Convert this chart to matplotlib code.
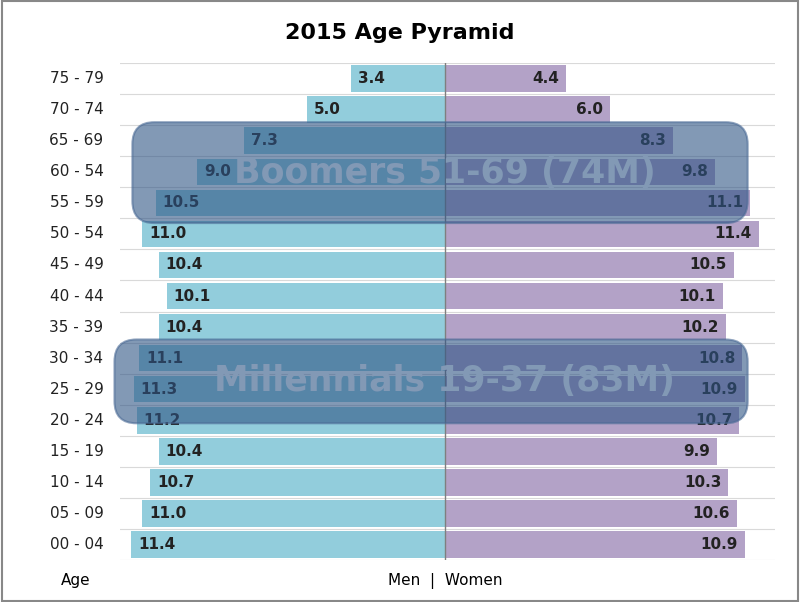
import matplotlib
matplotlib.use("Agg")
import matplotlib.pyplot as plt
from matplotlib.patches import FancyBboxPatch, Rectangle

ages = ["00 - 04","05 - 09","10 - 14","15 - 19","20 - 24","25 - 29","30 - 34","35 - 39",
        "40 - 44","45 - 49","50 - 54","55 - 59","60 - 54","65 - 69","70 - 74","75 - 79"]
men = [11.4,11.0,10.7,10.4,11.2,11.3,11.1,10.4,10.1,10.4,11.0,10.5,9.0,7.3,5.0,3.4]
women = [10.9,10.6,10.3,9.9,10.7,10.9,10.8,10.2,10.1,10.5,11.4,11.1,9.8,8.3,6.0,4.4]
groups = [("Boomers 51-69 (74M)", 11.35, 11.0, 13.6, 10.35), ("Millennials 19-37 (83M)", 12.0, 11.0, 6.6, 3.9)]

fig = plt.figure(figsize=(8, 6.02), dpi=100)
fig.patches.append(Rectangle((0.002,0.002),0.996,0.996,transform=fig.transFigure,fill=False,ec="#888888",lw=1.5))
ax = fig.add_axes([0.15, 0.07, 0.819, 0.825])
y = list(range(len(ages)))
ax.barh(y, [-m for m in men], height=0.86, color="#92CDDC")
ax.barh(y, women, height=0.86, color="#B3A2C7")
for yi in [i-0.5 for i in range(len(ages)+1)]:
    ax.axhline(yi, color="#d9d9d9", lw=0.8, zorder=0)
ax.axvline(0, color="#7f7f7f", lw=1)
ax.set_xlim(-11.8, 12.0)
ax.set_ylim(-0.5, 15.5)
ax.axis("off")
for i,(m,w) in enumerate(zip(men,women)):
    ax.text(-m+0.25, i, f"{m:.1f}", ha="left", va="center", fontsize=11, fontweight="bold", color="#222222")
    ax.text(w-0.25, i, f"{w:.1f}", ha="right", va="center", fontsize=11, fontweight="bold", color="#222222")
    ax.text(-12.4, i, ages[i], ha="right", va="center", fontsize=11, color="#222222", clip_on=False)
fig.canvas.draw()
for label, xl, xr, yt, yb in groups:
    (x0,y0) = ax.transData.transform((-xl, yb))
    (x1,y1) = ax.transData.transform((xr, yt))
    p = FancyBboxPatch((x0,y0), x1-x0, y1-y0, boxstyle="round,pad=0,rounding_size=22",
                       transform=None, fc="#2F5585", ec="#4a6a95", alpha=0.6, lw=1.5, zorder=5)
    fig.patches.append(p)
    ax.text(0, (yt+yb)/2, label, ha="center", va="center", fontsize=25, fontweight="bold",
            color="white", zorder=6)
fig.text(0.5, 0.945, "2015 Age Pyramid", ha="center", va="center", fontsize=16, fontweight="bold")
fig.text(0.095, 0.035, "Age", ha="center", va="center", fontsize=11)
fig.text(0.556, 0.035, "Men  |  Women", ha="center", va="center", fontsize=11)
fig.savefig("out.png", dpi=100)
